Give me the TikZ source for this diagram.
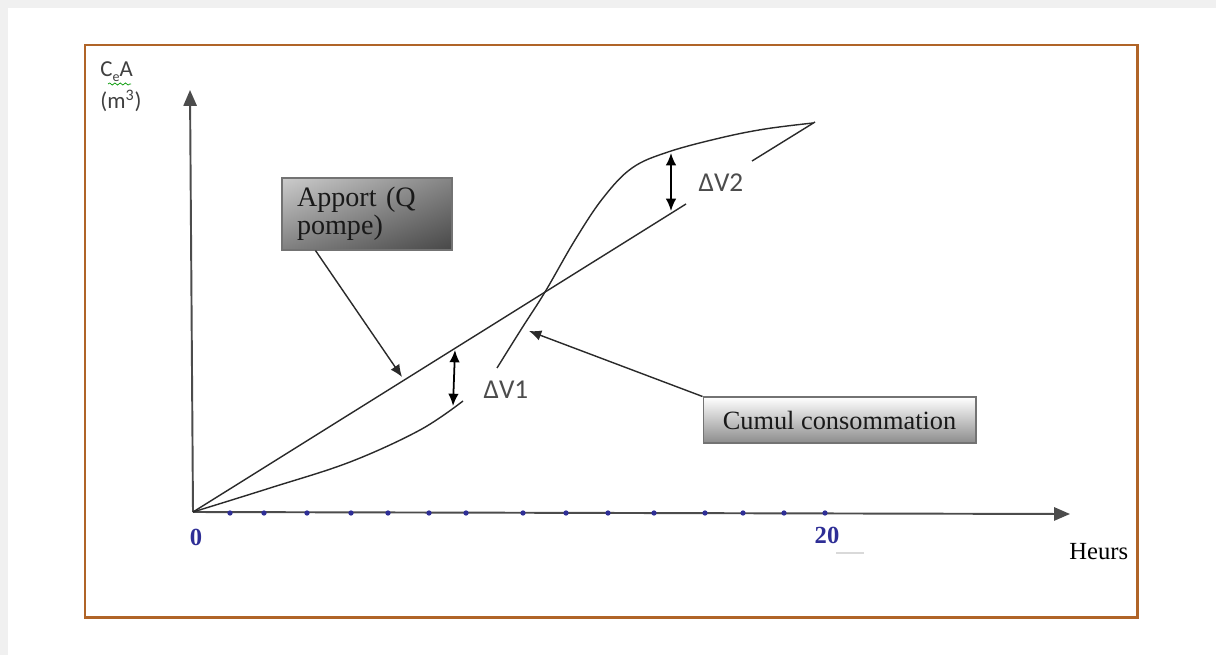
\documentclass[tikz,border=0pt]{standalone}
\usepackage{fontspec}
\setmainfont{Liberation Serif}
\newfontfamily\lblfont{Carlito}
\usetikzlibrary{arrows.meta,decorations.pathmorphing,shadings}
\definecolor{framebrown}{HTML}{B06428}
\definecolor{tickblue}{HTML}{2E2E96}
\definecolor{curvegray}{HTML}{2A2A2A}
\begin{document}
\begin{tikzpicture}[x=0.02cm,y=-0.02cm,
  axis/.style={draw=black!70, line width=1.1pt, -{Triangle[length=9pt,width=7.5pt]}},
  curve/.style={draw=curvegray, line width=0.8pt},
  dv/.style={draw=black, line width=1pt, {Latex[length=7pt,width=6pt]}-{Latex[length=7pt,width=6pt]}},
  callout/.style={draw=curvegray, line width=0.8pt, -{Latex[length=7pt,width=6pt]}},
  dot/.style={circle, fill=tickblue, inner sep=0pt, minimum size=3pt},
  sanslbl/.style={font=\lblfont\fontsize{15.5}{17}\selectfont, text=black!70},
  axlbl/.style={font=\lblfont\fontsize{13}{15}\selectfont, text=black!75, anchor=west, inner sep=0pt},
  numlbl/.style={font=\bfseries\fontsize{14}{16}\selectfont, text=tickblue, inner sep=0pt},
  apportbox/.style={draw=black!55, line width=0.6pt, upper left=black!20, upper right=black!48,
    lower left=black!50, lower right=black!72, minimum width=3.4cm, minimum height=1.44cm,
    text width=2.8cm, align=left, inner xsep=0.3cm, font=\fontsize{16}{16}\selectfont, text=black!90},
  cumulbox/.style={draw=black!55, line width=0.6pt, top color=white, bottom color=black!45,
    minimum width=5.46cm, minimum height=0.92cm, inner sep=0pt,
    font=\fontsize{15}{16}\selectfont, text=black!90}]
\useasboundingbox (0,0) rectangle (1216,655);
\fill[black!6] (0,0) rectangle (1216,655);
\fill[white] (8,8) rectangle (1216,655);
% frame
\draw[framebrown, line width=1.7pt] (85,45) rectangle (1137,617);
% axes
\coordinate (O) at (193,512);
\coordinate (ytip) at (190,90);
\coordinate (xtip) at (1070,514);
\draw[axis] (O) -- (ytip);
\draw[axis] (O) -- (xtip);
% ticks
\foreach \x in {230,264,307,351,388,429,466,523,566,608,654,705,743,784,825}
  \node[dot] at (\x,513) {};
% apport line
\coordinate (T) at (815,122);
\coordinate (A1) at (686,204);
\coordinate (A2) at (752,161);
\draw[curve] (O) -- (A1);
\draw[curve] (A2) -- (T);
% consumption curve
\draw[curve] plot[smooth, tension=0.6] coordinates {(193,512) (270,488) (350,462) (420,430) (463,401)};
\draw[curve] plot[smooth, tension=0.6] coordinates {(497,368) (522,328) (545,292) (575,240) (603,198) (632,168) (668,152) (720,138) (765,129) (813,123)};
% delta V arrows
\coordinate (d1t) at (455,350);
\coordinate (d1b) at (453,406);
\draw[dv] (d1t) -- (d1b);
\coordinate (d2t) at (671,153);
\coordinate (d2b) at (671,211);
\draw[dv] (d2t) -- (d2b);
\node[sanslbl] (dv1) at (506,390) {ΔV1};
\node[sanslbl] (dv2) at (721,183) {ΔV2};
% boxes
\node[apportbox] (apport) at (367,214) {Apport (Q\\pompe)};
\node[cumulbox] (cumul) at (839.5,420) {Cumul consommation};
\coordinate (apTip) at (402,377);
\coordinate (cuTip) at (529,331);
\draw[callout] ([xshift=0.68cm]apport.south west) -- (apTip);
\draw[callout] (cumul.north west) -- (cuTip);
% axis labels
\node[axlbl] (ca) at (100,72) {C\raisebox{-0.45ex}{\fontsize{8}{9}\selectfont e}A};
\draw[green!60!black, line width=0.4pt, decorate, decoration={snake, amplitude=0.6pt, segment length=3pt}] (108,84) -- (131,84);
\node[axlbl] (unit) at (100,101) {(m\textsuperscript{3})};
\node[numlbl] (zero) at (196,537) {0};
\node[numlbl] (twenty) at (827,535) {20};
\draw[black!15, line width=1.5pt] (836,553) -- (864,553);
\node[font=\fontsize{14}{16}\selectfont, anchor=west, inner sep=0pt] (heurs) at (1069,552) {Heurs};
\end{tikzpicture}
\end{document}
